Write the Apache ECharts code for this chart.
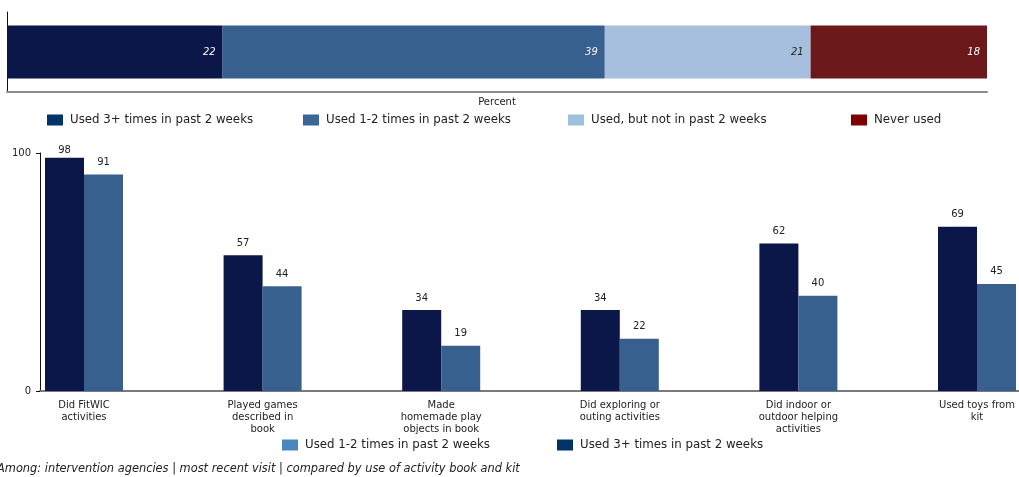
<!DOCTYPE html>
<html>
<head>
<meta charset="utf-8">
<style>
  html, body { margin: 0; padding: 0; background: #fff; }
  #chart { width: 1019px; height: 477px; }
</style>
<script src="https://cdn.jsdelivr.net/npm/echarts@6/dist/echarts.min.js"></script>
</head>
<body>
<div id="chart"></div>
<script>
// Overall use of the kit (percent)
const usageLabels = ['Used 3+ times in past 2 weeks', 'Used 1-2 times in past 2 weeks', 'Used, but not in past 2 weeks', 'Never used'];
const usageShares = [22, 39, 21, 18];

// Activities done, by use group (percent)
const activities = [
  'Did FitWIC\nactivities',
  'Played games\ndescribed in\nbook',
  'Made\nhomemade play\nobjects in book',
  'Did exploring or\nouting activities',
  'Did indoor or\noutdoor helping\nactivities',
  'Used toys from\nkit'
];
const used3Plus = [98, 57, 34, 34, 62, 69];
const used1to2 = [91, 44, 19, 22, 40, 45];
const valueTicks = [0, 100];

const FONT = 'DejaVu Sans';
const TEXT = '#222';
const barColors = ['#0b1649', '#37608f', '#a5bfdd', '#6a181a'];
const keyColors = ['#003366', '#3b6594', '#9ebfdf', '#800000'];
const labelColors = ['#fff', '#f2f2f2', '#222', '#fff'];

const stackSeries = usageLabels.map((name, i) => ({
  name: name,
  type: 'bar',
  stack: 'usage',
  xAxisIndex: 0,
  yAxisIndex: 0,
  barWidth: 53,
  itemStyle: { color: barColors[i] },
  label: {
    show: true,
    position: 'insideRight',
    distance: 7,
    fontFamily: FONT,
    fontSize: 10,
    fontStyle: 'italic',
    color: labelColors[i]
  },
  data: [usageShares[i]]
}));

const barLabel = {
  show: true,
  position: 'top',
  distance: 7,
  fontFamily: FONT,
  fontSize: 10,
  color: TEXT
};

// labels of bars that reach the top of the plot sit tight against the bar
const withLabelFit = values => values.map(v => v > 95 ? { value: v, label: { distance: 2 } } : v);

const legendBase = {
  top: 114,
  padding: 0,
  icon: 'rect',
  itemWidth: 16,
  itemHeight: 11,
  itemGap: 0,
  selectedMode: false,
  textStyle: { fontFamily: FONT, fontSize: 11.8, color: TEXT, padding: [0, 0, 0, 2] }
};

const topLegendLeft = [47, 303, 568, 851];
const topLegends = usageLabels.map((name, i) => Object.assign({}, legendBase, {
  left: topLegendLeft[i],
  data: [{ name: name, itemStyle: { color: keyColors[i] } }]
}));

const bottomLegends = [
  { left: 282, name: usageLabels[1], color: '#4a86bf' },
  { left: 557, name: usageLabels[0], color: '#003366' }
].map(d => Object.assign({}, legendBase, {
  left: d.left,
  top: 439,
  data: [{ name: d.name, itemStyle: { color: d.color } }]
}));

const option = {
  animation: false,
  backgroundColor: '#fff',
  textStyle: { fontFamily: FONT },
  title: {
    text: 'Among: intervention agencies | most recent visit | compared by use of activity book and kit',
    left: -3,
    top: 464,
    padding: 0,
    textStyle: { fontFamily: FONT, fontSize: 11.4, fontStyle: 'italic', fontWeight: 'normal', color: TEXT }
  },
  legend: topLegends.concat(bottomLegends),
  grid: [
    { left: 7, width: 980, top: 12, height: 80, outerBoundsMode: 'none' },
    { left: 40, width: 979, top: 153, height: 238, outerBoundsMode: 'none' },
    { left: -5.3, width: 1071.6, top: 153, height: 238, outerBoundsMode: 'none' }
  ],
  xAxis: [
    {
      gridIndex: 0, type: 'value', min: 0, max: 100,
      name: 'Percent', nameLocation: 'middle', nameGap: 5,
      nameTextStyle: { fontFamily: FONT, fontSize: 10, color: TEXT, verticalAlign: 'top' },
      axisLine: { show: true, lineStyle: { color: '#8a8a8a', width: 2 } },
      axisTick: { show: false }, axisLabel: { show: false }, splitLine: { show: false }
    },
    {
      gridIndex: 1, type: 'value', min: 0, max: 1,
      axisLine: { show: true, lineStyle: { color: '#7a7a7a', width: 2 } },
      axisTick: { show: false }, axisLabel: { show: false }, splitLine: { show: false }
    },
    {
      gridIndex: 2, type: 'category', data: activities,
      axisLine: { show: false }, axisTick: { show: false }, splitLine: { show: false },
      axisLabel: { interval: 0, margin: 8, fontFamily: FONT, fontSize: 10, lineHeight: 12, color: TEXT }
    }
  ],
  yAxis: [
    {
      gridIndex: 0, type: 'category', data: ['All'],
      axisLine: { show: true, lineStyle: { color: '#111', width: 1 } },
      axisTick: { show: false }, axisLabel: { show: false }, splitLine: { show: false }
    },
    {
      gridIndex: 1, type: 'value', min: valueTicks[0], max: valueTicks[1], interval: valueTicks[1] - valueTicks[0],
      axisLine: { show: true, lineStyle: { color: '#111', width: 1 } },
      axisTick: { show: true, length: 4, lineStyle: { color: '#111' } },
      axisLabel: { margin: 9, fontFamily: FONT, fontSize: 10, color: TEXT },
      splitLine: { show: false }
    },
    {
      gridIndex: 2, type: 'value', min: valueTicks[0], max: valueTicks[1],
      show: false, splitLine: { show: false }
    }
  ],
  series: stackSeries.concat([
    {
      name: usageLabels[0], type: 'bar', xAxisIndex: 2, yAxisIndex: 2,
      barWidth: 39, barGap: '0%',
      itemStyle: { color: barColors[0] },
      label: barLabel,
      data: withLabelFit(used3Plus)
    },
    {
      name: usageLabels[1], type: 'bar', xAxisIndex: 2, yAxisIndex: 2,
      barWidth: 39, barGap: '0%',
      itemStyle: { color: barColors[1] },
      label: barLabel,
      data: withLabelFit(used1to2)
    }
  ])
};

const chart = echarts.init(document.getElementById('chart'), null, { renderer: 'canvas' });
chart.setOption(option);
</script>
</body>
</html>
